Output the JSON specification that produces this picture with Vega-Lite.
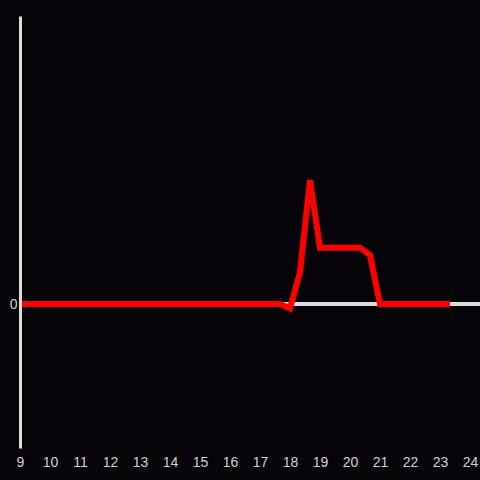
{
  "$schema": "https://vega.github.io/schema/vega-lite/v6.json",
  "width": 460,
  "height": 432,
  "autosize": "none",
  "padding": {"left": 20, "top": 16, "right": 0, "bottom": 32},
  "background": "#060408",
  "config": {
    "view": {"stroke": null},
    "axis": {"labelFont": "Liberation Sans", "labelFontSize": 14, "labelColor": "#d0d0d0", "grid": false, "ticks": false, "title": null}
  },
  "data": {
    "values": [
      {"hour": 9.0, "value": 0}, {"hour": 9.333, "value": 0}, {"hour": 9.667, "value": 0},
      {"hour": 10.0, "value": 0}, {"hour": 10.333, "value": 0}, {"hour": 10.667, "value": 0},
      {"hour": 11.0, "value": 0}, {"hour": 11.333, "value": 0}, {"hour": 11.667, "value": 0},
      {"hour": 12.0, "value": 0}, {"hour": 12.333, "value": 0}, {"hour": 12.667, "value": 0},
      {"hour": 13.0, "value": 0}, {"hour": 13.333, "value": 0}, {"hour": 13.667, "value": 0},
      {"hour": 14.0, "value": 0}, {"hour": 14.333, "value": 0}, {"hour": 14.667, "value": 0},
      {"hour": 15.0, "value": 0}, {"hour": 15.333, "value": 0}, {"hour": 15.667, "value": 0},
      {"hour": 16.0, "value": 0}, {"hour": 16.333, "value": 0}, {"hour": 16.667, "value": 0},
      {"hour": 17.0, "value": 0}, {"hour": 17.333, "value": 0}, {"hour": 17.667, "value": 0},
      {"hour": 18.0, "value": -0.03}, {"hour": 18.333, "value": 0.22}, {"hour": 18.667, "value": 0.86},
      {"hour": 19.0, "value": 0.39}, {"hour": 19.333, "value": 0.39}, {"hour": 19.667, "value": 0.39},
      {"hour": 20.0, "value": 0.39}, {"hour": 20.333, "value": 0.39}, {"hour": 20.667, "value": 0.34},
      {"hour": 21.0, "value": 0}, {"hour": 21.333, "value": 0}, {"hour": 21.667, "value": 0},
      {"hour": 22.0, "value": 0}, {"hour": 22.333, "value": 0}, {"hour": 22.667, "value": 0},
      {"hour": 23.0, "value": 0}, {"hour": 23.333, "value": 0}
    ]
  },
  "layer": [
    {
      "mark": {"type": "rule", "color": "#dddddd", "strokeWidth": 3},
      "encoding": {"y": {"datum": 0, "type": "quantitative"}}
    },
    {
      "mark": {"type": "line", "color": "#ff0000", "strokeWidth": 6, "clip": false},
      "encoding": {
        "x": {
          "field": "hour", "type": "quantitative",
          "scale": {"domain": [9, 24.333], "nice": false, "zero": false},
          "axis": {"values": [9,10,11,12,13,14,15,16,17,18,19,20,21,22,23,24], "format": "d", "domain": false, "labelPadding": 7, "labelFlush": false}
        },
        "y": {
          "field": "value", "type": "quantitative",
          "scale": {"domain": [-1, 2], "nice": false},
          "axis": {"values": [0], "format": "d", "domain": true, "domainColor": "#dddddd", "domainWidth": 3, "labelPadding": 3, "zindex": 1}
        }
      }
    }
  ]
}
